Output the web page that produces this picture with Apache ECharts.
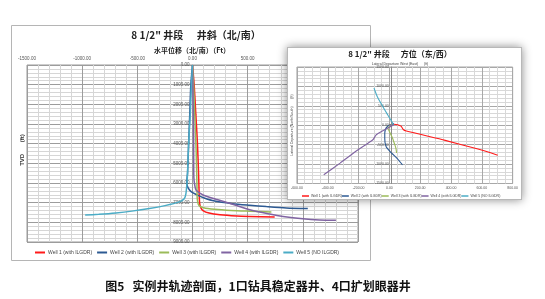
<!DOCTYPE html>
<html>
<head>
<meta charset="utf-8">
<script src="https://cdn.jsdelivr.net/npm/echarts@6/dist/echarts.min.js"></script>
<style>
html,body{margin:0;padding:0;background:#fff;}
#main{position:absolute;left:0;top:0;width:545px;height:299px;}
#inset{position:absolute;left:287px;top:47px;width:233px;height:151px;background:#fff;border:1px solid #b8b8b8;box-shadow:0 0 9px rgba(0,0,0,0.45);}
</style>
</head>
<body>
<div id="main"></div>
<div id="inset"></div>
<script>
// ---------- DATA ----------
const seriesNames = ['Well 1 (with ILGDR)', 'Well 2 (with ILGDR)', 'Well 3 (with ILGDR)', 'Well 4 (with ILGDR)', 'Well 5 (NO ILGDR)'];
const seriesColors = ['#ff1a1a', '#2d5a93', '#9bbb59', '#8064a2', '#4bacc6'];

// Main chart: horizontal displacement N/S (ft) vs TVD (ft)
const well1_ns  = [0, 15, 30, 45, 55, 60, 65, 75, 95, 150, 250, 400, 518, 745];
const well1_tvd = [0, 1000, 2500, 4000, 5500, 6500, 7050, 7250, 7400, 7530, 7620, 7680, 7700, 7725];
const well2_ns  = [0, -15, -25, -35, -45, -52, -40, -10, 40, 100, 200, 364, 518, 670, 850, 1045];
const well2_tvd = [0, 1000, 2500, 4000, 5500, 6000, 6250, 6450, 6600, 6750, 6920, 7050, 7130, 7200, 7270, 7300];
const well3_ns  = [0, 10, 20, 33, 40, 42, 48, 60, 100, 200, 350, 518, 715];
const well3_tvd = [0, 1000, 2500, 4330, 6000, 6700, 7000, 7150, 7260, 7340, 7400, 7435, 7470];
const well4_ns  = [0, 5, 10, 12, 20, 33, 100, 215, 364, 518, 700, 821, 1000, 1150, 1300];
const well4_tvd = [0, 1500, 3500, 5690, 6100, 6370, 6620, 6830, 7080, 7360, 7580, 7700, 7820, 7880, 7900];
const well5_ns  = [0, -10, -20, -35, -45, -50, -60, -75, -120, -250, -391, -550, -694, -850, -973];
const well5_tvd = [0, 1000, 2500, 4000, 5500, 6000, 6550, 6800, 6960, 7150, 7300, 7430, 7520, 7590, 7630];

// Inset chart: East/West (ft) vs North/South (ft)
const well1_ew = [0, 30, 75, 90, 110, 362, 575, 703];
const well1_nsI = [0, 25, -20, -110, -150, -390, -614, -770];
const well2_ew = [0, 30, 5, -20, -30, -30, -21, 15, 50, 85];
const well2_nsI = [0, 30, 10, -60, -200, -350, -554, -720, -850, -1018];
const well3_ew = [0, 20, -10, 0, 20, 35, 43, 47];
const well3_nsI = [0, 20, -70, -160, -330, -500, -600, -716];
const well4_ew = [0, 30, -85, -107, -203, -320, -426];
const well4_nsI = [0, 10, -245, -374, -631, -974, -1276];
const well5_ew = [25, 21, -11, -43, -79, -100];
const well5_nsI = [20, 57, 270, 485, 742, 960];

const mainX = [well1_ns, well2_ns, well3_ns, well4_ns, well5_ns];
const mainY = [well1_tvd, well2_tvd, well3_tvd, well4_tvd, well5_tvd];
const insetX = [well1_ew, well2_ew, well3_ew, well4_ew, well5_ew];
const insetY = [well1_nsI, well2_nsI, well3_nsI, well4_nsI, well5_nsI];

const zip = (a, b) => a.map((v, i) => [v, b[i]]);
const fmt2 = v => v.toFixed(2);
const CJK = '"Noto Sans CJK SC", "Noto Sans", sans-serif';
const LAT = '"Liberation Sans", Arial, sans-serif';

// ---------- MAIN CHART ----------
const mainGrid = {left: 27, top: 65, width: 331, height: 177};
const mainXMin = -1500, mainXMax = 1500;
const main = echarts.init(document.getElementById('main'), null, {renderer: 'canvas'});
main.setOption({
  animation: false,
  graphic: [
    {type: 'rect', shape: {x: 11.5, y: 25.5, width: 359, height: 235}, style: {fill: 'none', stroke: '#b5b5b5', lineWidth: 1}, z: -1},
    {type: 'text', x: 196, y: 35, style: {text: '8 1/2" 井段      井斜（北/南）', font: 'bold 10px ' + CJK, fill: '#222', textAlign: 'center', textVerticalAlign: 'middle'}},
    {type: 'text', x: 192, y: 50, style: {text: '水平位移（北/南）（Ft）', font: 'bold 7px ' + CJK, fill: '#222', textAlign: 'center', textVerticalAlign: 'middle'}},
    {type: 'text', x: 22, y: 150, rotation: Math.PI / 2, style: {text: 'TVD       (ft)', font: 'bold 6px ' + LAT, fill: '#333', textAlign: 'center', textVerticalAlign: 'middle'}},
    {type: 'text', x: 258, y: 286, style: {text: '图5   实例井轨迹剖面，1口钻具稳定器井、4口扩划眼器井', font: 'bold 12px ' + CJK, fill: '#111', textAlign: 'center', textVerticalAlign: 'middle'}}
  ],
  legend: {
    data: seriesNames, left: 35, top: 250, padding: 0, icon: 'rect', itemWidth: 10, itemHeight: 2, itemGap: 5,
    textStyle: {fontSize: 5, color: '#444', fontFamily: LAT, padding: [0, 0, 0, -2]}
  },
  grid: Object.assign({show: true, borderColor: '#9a9a9a', borderWidth: 1, backgroundColor: '#fff'}, mainGrid),
  xAxis: {
    type: 'value', position: 'top', min: mainXMin, max: mainXMax, interval: 500,
    axisLine: {show: false, onZero: false},
    axisTick: {show: false},
    axisLabel: {fontSize: 4.5, color: '#555', fontFamily: LAT, margin: 4, formatter: fmt2, showMinLabel: true, showMaxLabel: true},
    splitLine: {show: true, lineStyle: {color: '#9c9c9c', width: 1}},
    minorTick: {show: false, splitNumber: 5},
    minorSplitLine: {show: true, lineStyle: {color: '#d6d6d6', width: 1}}
  },
  yAxis: {
    type: 'value', inverse: true, min: 0, max: 9000, interval: 1000,
    offset: -(0 - mainXMin) / (mainXMax - mainXMin) * mainGrid.width,
    axisLine: {show: true, onZero: false, lineStyle: {color: '#9c9c9c'}},
    axisTick: {show: false},
    axisLabel: {fontSize: 4.5, color: '#555', fontFamily: LAT, margin: 3, formatter: fmt2, showMinLabel: true, showMaxLabel: true},
    splitLine: {show: true, lineStyle: {color: '#9c9c9c', width: 1}},
    minorTick: {show: false, splitNumber: 5},
    minorSplitLine: {show: true, lineStyle: {color: '#d6d6d6', width: 1}}
  },
  series: seriesNames.map((n, i) => ({
    name: n, type: 'line', data: zip(mainX[i], mainY[i]), showSymbol: false, smooth: 0.25,
    lineStyle: {color: seriesColors[i], width: 1.5}, itemStyle: {color: seriesColors[i]}
  }))
});

// ---------- INSET CHART ----------
const insetGrid = {left: 8, top: 19, width: 219, height: 116.5};
const insetXMin = -600, insetXMax = 800;
const inset = echarts.init(document.getElementById('inset'), null, {renderer: 'canvas'});
inset.setOption({
  animation: false,
  graphic: [
    {type: 'text', x: 112, y: 6, style: {text: '8 1/2" 井段      方位（东/西）', font: 'bold 8px ' + CJK, fill: '#222', textAlign: 'center', textVerticalAlign: 'middle'}},
    {type: 'text', x: 112, y: 16, style: {text: 'Lateral Departure West (East)      (ft)', font: '3.5px ' + LAT, fill: '#444', textAlign: 'center', textVerticalAlign: 'middle'}},
    {type: 'text', x: 4, y: 77, rotation: Math.PI / 2, style: {text: 'Lateral Departure (North/South)        (ft)', font: '3.5px ' + LAT, fill: '#444', textAlign: 'center', textVerticalAlign: 'middle'}}
  ],
  legend: {
    data: seriesNames, left: 14, top: 146, width: 225, padding: 0, icon: 'rect', itemWidth: 7, itemHeight: 1.5, itemGap: 0,
    textStyle: {fontSize: 3.5, color: '#444', fontFamily: LAT, padding: [0, 0, 0, -3]}
  },
  grid: Object.assign({show: true, borderColor: '#a8a8a8', borderWidth: 1, backgroundColor: '#fff'}, insetGrid),
  xAxis: {
    type: 'value', position: 'bottom', min: insetXMin, max: insetXMax, interval: 200,
    axisLine: {show: false, onZero: false},
    axisTick: {show: false},
    axisLabel: {fontSize: 3.5, color: '#555', fontFamily: LAT, margin: 3, formatter: fmt2, showMinLabel: true, showMaxLabel: true},
    splitLine: {show: true, lineStyle: {color: '#a8a8a8', width: 1}},
    minorTick: {show: false, splitNumber: 4},
    minorSplitLine: {show: true, lineStyle: {color: '#d8d8d8', width: 1}}
  },
  yAxis: {
    type: 'value', min: -1500, max: 1500, interval: 500,
    offset: -(0 - insetXMin) / (insetXMax - insetXMin) * insetGrid.width,
    axisLine: {show: true, onZero: false, lineStyle: {color: '#8a8a8a'}},
    axisTick: {show: false},
    axisLabel: {fontSize: 3.5, color: '#555', fontFamily: LAT, margin: 2, formatter: fmt2, showMinLabel: true, showMaxLabel: true},
    splitLine: {show: true, lineStyle: {color: '#a8a8a8', width: 1}},
    minorTick: {show: false, splitNumber: 5},
    minorSplitLine: {show: true, lineStyle: {color: '#d8d8d8', width: 1}}
  },
  series: seriesNames.map((n, i) => ({
    name: n, type: 'line', data: zip(insetX[i], insetY[i]), showSymbol: false, smooth: 0.2,
    lineStyle: {color: seriesColors[i], width: 1.1}, itemStyle: {color: seriesColors[i]}
  }))
});
</script>
</body>
</html>
